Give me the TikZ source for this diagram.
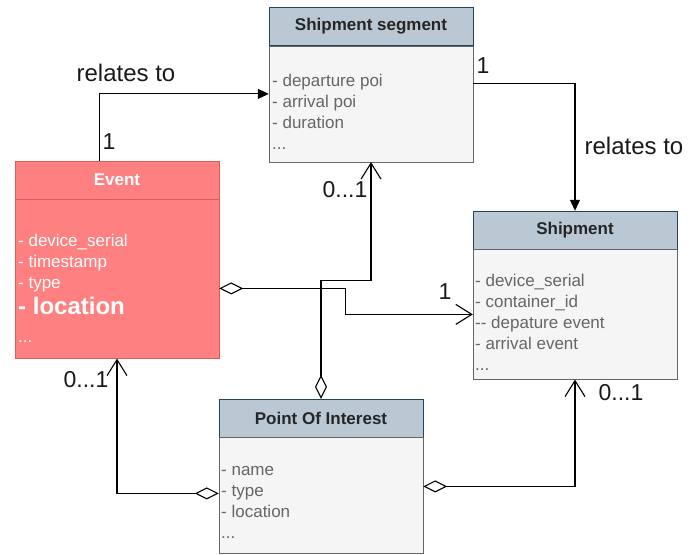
\documentclass[tikz,border=0pt]{standalone}
\usepackage{xcolor}
\usepackage{fontspec}
\setmainfont{Liberation Sans}
\usetikzlibrary{arrows.meta}
\definecolor{hdrfill}{HTML}{BAC8D3}
\definecolor{hdrline}{HTML}{23445D}
\definecolor{bodyfill}{HTML}{F5F5F5}
\definecolor{bodyline}{HTML}{666666}
\definecolor{evfill}{HTML}{FF8080}
\definecolor{evline}{HTML}{E05A5A}

\begin{document}
\begin{tikzpicture}[x=1pt,y=-1pt,
  hdr/.style={draw=hdrline, fill=hdrfill, minimum width=204pt, minimum height=38pt, inner sep=0pt, font=\fontsize{17}{20}\selectfont\bfseries, text=black!85},
  body/.style={draw=bodyline, fill=bodyfill, minimum width=204pt, inner sep=0pt, anchor=north},
  evhdr/.style={hdr, draw=evline, fill=evfill, text=white},
  evbody/.style={body, draw=evline, fill=evfill},
  attr/.style={anchor=north west, inner sep=0pt, align=left, font=\fontsize{17}{21}\selectfont, text=bodyline},
  lbl/.style={font=\fontsize{23}{23}\selectfont, text=black!90},
  rel/.style={-{Triangle[length=11pt,width=10pt]}, line width=1.1pt},
  agg/.style={{Diamond[fill=white,length=24pt,width=12pt]}-{Straight Barb[length=16pt,width=20pt]}, line width=1.1pt}]
\useasboundingbox (0,0) rectangle (698,554);
\node[hdr] (segH) at (371,26.5) {Shipment segment};
\node[body, minimum height=116pt] (segB) at (segH.south) {};
\node[attr] (segA) at (272,74) {- departure poi\\- arrival poi\\- duration\\...};
\node[evhdr] (evH) at (117,180) {Event};
\node[evbody, minimum height=159pt] (evB) at (evH.south) {};
\node[attr, text=white] (evA) at (18,234) {- device\_serial\\- timestamp\\- type\\[5pt]{\fontsize{24}{24}\selectfont\bfseries - location}\\[7pt]...};
\node[hdr] (shH) at (575,230) {Shipment};
\node[body, minimum height=130pt] (shB) at (shH.south) {};
\node[attr] (shA) at (475,274) {- device\_serial\\- container\_id\\-{}- depature event\\- arrival event\\...};
\node[hdr] (poiH) at (321,418) {Point Of Interest};
\node[body, minimum height=116pt] (poiB) at (poiH.south) {};
\node[attr] (poiA) at (221,466) {- name\\- type\\- location\\...};
\draw[rel] ([xshift=85pt]evH.north west) |- ([yshift=10pt]segB.west);
\draw[rel] ([yshift=20pt]segB.east) -| (shH.north);
\draw[agg] ([yshift=-9.5pt]evB.east) -- ++(126,0) |- (shB.west);
\draw[agg] (poiH.north) -- ++(0,-118) -| (segB.south);
\draw[agg] ([yshift=2pt]poiB.west) -| (evB.south);
\draw[agg] ([yshift=9pt]poiB.east) -| (shB.south);
\node[lbl, font=\fontsize{24}{24}\selectfont] (relA) at (126,73) {relates to};
\node[lbl] (oneA) at (109,142) {1};
\node[lbl] (oneB) at (483,66) {1};
\node[lbl, font=\fontsize{24}{24}\selectfont] (relB) at (634,146) {relates to};
\node[lbl] (zeroA) at (345,190) {0...1};
\node[lbl] (oneC) at (445,292) {1};
\node[lbl] (zeroB) at (86,380) {0...1};
\node[lbl] (zeroC) at (621,393) {0...1};
\end{tikzpicture}
\end{document}
